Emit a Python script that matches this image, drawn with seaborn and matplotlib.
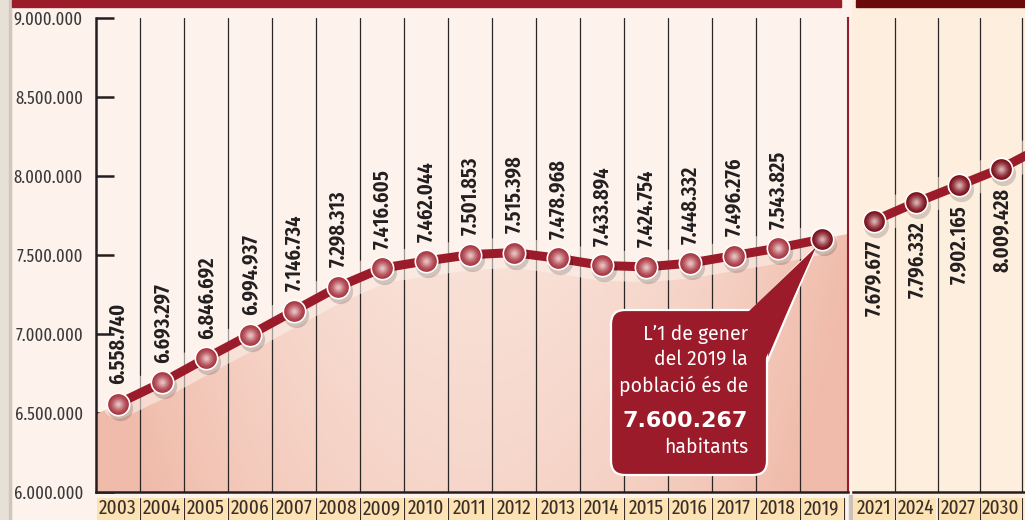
import numpy as np
import matplotlib
matplotlib.use("Agg")
import matplotlib.pyplot as plt
import matplotlib.transforms as mtransforms
from matplotlib import font_manager as fm
from matplotlib.colors import to_rgb
from matplotlib.patches import Rectangle, FancyBboxPatch, Polygon
import seaborn as sns

# data
years_hist = ["2003", "2004", "2005", "2006", "2007", "2008", "2009", "2010", "2011",
              "2012", "2013", "2014", "2015", "2016", "2017", "2018", "2019"]
pop_hist = [6558740, 6693297, 6846692, 6994937, 7146734, 7298313, 7416605, 7462044, 7501853,
            7515398, 7478968, 7433894, 7424754, 7448332, 7496276, 7543825, 7600267]
years_proj = ["2021", "2024", "2027", "2030", "2033"]
pop_proj = [7679677, 7796332, 7902165, 8009428, 8150000]  # 2033 runs off the right edge
n_proj_shown = 4
yticks = [6000000, 6500000, 7000000, 7500000, 8000000, 8500000, 9000000]
callout_lines = ["L\u20191 de gener", "del 2019 la", "poblaci\u00f3 \u00e9s de"]
callout_number = "7.600.267"
callout_unit = "habitants"

W, H = 1025, 520
RED = "#9B1B2A"
CREAM = "#FDF3EC"
CREAM2 = "#FEEEDD"
INK = "#231F20"

installed = {f.name for f in fm.fontManager.ttflist}


def pick(cands):
    for c in cands:
        if c in installed:
            return c
    return "DejaVu Sans"


NARROW = pick(["Fira Sans Extra Condensed", "Fira Sans Condensed", "Barlow Condensed",
               "Asap Condensed", "Archivo Narrow"])
BODY = pick(["Fira Sans", "Open Sans"])

sns.set_theme(style="white")
plt.rcParams["font.family"] = [NARROW, "DejaVu Sans"]


def dot(v):
    return f"{v:,}".replace(",", ".")


def fx(px):
    return px / W


def fy(py):
    return 1 - py / H


fig = plt.figure(figsize=(W / 100, H / 100), dpi=100)
fig.patch.set_facecolor(CREAM)

# page background pieces
fig.add_artist(Rectangle((0, 0), fx(11), 1, transform=fig.transFigure, color="#E6E0D7", zorder=-2))
fig.add_artist(Rectangle((fx(9), 0), fx(2), 1, transform=fig.transFigure, color="#CFC7BC", zorder=-2))
fig.add_artist(Rectangle((fx(852), 0), 1, 1, transform=fig.transFigure, color=CREAM2, zorder=-2))
fig.add_artist(Rectangle((fx(849), 0), fx(3), fy(495), transform=fig.transFigure, color="#C9C2BA", zorder=-1))
fig.add_artist(Rectangle((fx(12), fy(7)), fx(829), 7 / H, transform=fig.transFigure, color=RED, zorder=1))
fig.add_artist(Rectangle((fx(856), fy(7)), 1, 7 / H, transform=fig.transFigure, color="#6B0A0A", zorder=1))

cell2 = 42.3
ax1 = fig.add_axes([fx(96), fy(492), fx(848) - fx(96), 474 / H])
ax2 = fig.add_axes([fx(853), fy(492), len(years_proj) * cell2 / W, 474 / H])
ax1.set_facecolor(CREAM)
ax2.set_facecolor(CREAM2)

xs1 = np.arange(len(years_hist))
xs2 = np.arange(len(years_proj))
x1max = len(years_hist) - 0.5 + 4 / 44

# pink gradient under the historic line
y_left = pop_hist[0] - 0.5 * (pop_hist[1] - pop_hist[0])
y_right = pop_hist[-1] + (x1max - xs1[-1]) * (pop_hist[-1] - pop_hist[-2])
verts = [(-0.5, y_left)] + list(zip(xs1, pop_hist)) + [(x1max, y_right), (x1max, 6000000), (-0.5, 6000000)]
clip = Polygon(verts, closed=True, transform=ax1.transData, fc="none", ec="none")
gx, gy = np.meshgrid(np.linspace(0, 1, 300), np.linspace(0, 1, 200))
alpha = np.clip(0.12 + 0.4 * (1 - gy) + 0.65 * ((gx - 0.5) * 2) ** 2, 0, 1)
rgba = np.zeros((200, 300, 4))
rgba[..., :3] = np.array(to_rgb("#F0BBAA"))
rgba[..., 3] = alpha
im = ax1.imshow(rgba, extent=(-0.5, x1max, 6000000, 9000000), aspect="auto",
                origin="lower", zorder=1, interpolation="bilinear")
im.set_clip_path(clip)

# vertical cell lines
for k in range(len(years_hist) - 1):
    ax1.axvline(k + 0.5, color="#2B2626", lw=0.9, zorder=1.5)
for k in range(len(years_proj) - 1):
    ax2.axvline(k + 0.5, color="#2B2626", lw=0.9, zorder=1.5)

# soft glow + line
ax1.plot(xs1, pop_hist, color=CREAM, lw=22, alpha=0.55, zorder=2, solid_capstyle="round")
ax2.plot(xs2, pop_proj, color=CREAM2, lw=22, alpha=0.55, zorder=2, solid_capstyle="round")
sns.lineplot(x=xs1, y=pop_hist, ax=ax1, color=RED, lw=6.5, zorder=3)
sns.lineplot(x=xs2, y=pop_proj, ax=ax2, color=RED, lw=6.5, zorder=3)


def spheres(ax, x, y, dark, light, z=4):
    shadow = mtransforms.offset_copy(ax.transData, fig=fig, x=2, y=-4, units="dots")
    ax.scatter(x, y, s=330, color="black", alpha=0.16, linewidths=0, transform=shadow, zorder=z)
    sns.scatterplot(x=x, y=y, ax=ax, s=260, color=dark, edgecolor="white", linewidth=1.2, zorder=z + 0.1)
    d, l = np.array(to_rgb(dark)), np.array(to_rgb(light))
    for i, r in enumerate([0.85, 0.7, 0.55, 0.42, 0.3, 0.18]):
        t = (1 - r) ** 1.4
        ax.scatter(x, y, s=260 * r * r, color=d * (1 - t) + l * t, linewidths=0, zorder=z + 0.2 + i * 0.01)


spheres(ax1, xs1[:-1], pop_hist[:-1], "#A8343F", "#F8E8E6")
spheres(ax1, xs1[-1:], pop_hist[-1:], "#7A0C18", "#F4DCDC", z=7)
spheres(ax2, xs2, pop_proj, "#7A0C18", "#F4DCDC")

# value labels
for x, v in zip(xs1[:-1], pop_hist[:-1]):
    ax1.annotate(dot(v), (x, v), xytext=(0, 14), textcoords="offset points", rotation=90,
                 ha="center", va="bottom", fontsize=16, fontweight=600, color=INK, zorder=5)
for x, v in zip(xs2[:n_proj_shown], pop_proj[:n_proj_shown]):
    ax2.annotate(dot(v), (x, v), xytext=(0, -14), textcoords="offset points", rotation=90,
                 ha="center", va="top", fontsize=16, fontweight=600, color=INK, zorder=5)

# axes setup
ax1.set_xlim(-0.5, x1max)
ax1.set_ylim(6000000, 9000000)
ax2.set_xlim(-0.5, len(years_proj) - 0.5)
ax2.set_ylim(5962000, 8962000)

ax1.set_yticks(yticks)
ax1.set_yticklabels([dot(t) for t in yticks])
ax1.tick_params(axis="y", direction="in", length=13, width=1.8, color=INK, pad=9.4,
                labelsize=13, labelcolor="#3A3A3A", left=True)
ax2.set_yticks([])
for ax, xs, labels in [(ax1, xs1, years_hist), (ax2, xs2[:n_proj_shown], years_proj[:n_proj_shown])]:
    ax.set_xticks(xs)
    ax.set_xticklabels(labels)
    ax.tick_params(axis="x", length=0, pad=5, labelsize=15, labelcolor="#3A2E2A")
    trans = mtransforms.blended_transform_factory(ax.transData, ax.transAxes)
    for x in xs:
        ax.add_artist(Rectangle((x - 0.47, -0.09), 0.94, 0.077, transform=trans, fc="#FDE3B4",
                                ec="none", clip_on=False, zorder=0.5))
        ax.plot([x + 0.5, x + 0.5], [-0.013, -0.09], transform=trans, color="#3A2E2A",
                lw=0.8, clip_on=False, zorder=0.6)
    for s in ["top", "left", "right"]:
        ax.spines[s].set_visible(False)
    ax.spines["bottom"].set_color(INK)
    ax.spines["bottom"].set_linewidth(1.8)
    ax.grid(False)
ax1.spines["left"].set_visible(True)
ax1.spines["left"].set_color(INK)
ax1.spines["left"].set_linewidth(1.8)
ax1.spines["right"].set_visible(True)
ax1.spines["right"].set_color(RED)
ax1.spines["right"].set_linewidth(1.5)

# callout (pixel positions, tip anchored at the 2019 point)
ident = mtransforms.IdentityTransform()
tip = ax1.transData.transform((xs1[-1], pop_hist[-1])) + np.array([-6, -8])
box = FancyBboxPatch((611, H - 475), 156, 165, boxstyle="round,pad=0,rounding_size=14",
                     fc=RED, ec="white", lw=1.6, transform=ident, zorder=6)
ptr = [(752, H - 310), tip, (767, H - 362)]
ax1.add_artist(Polygon(ptr, closed=True, fc=RED, ec="white", lw=1.6, transform=ident, zorder=6))
ax1.add_artist(box)
ax1.add_artist(Polygon([(748, H - 312), tip, (765, H - 360)], closed=True, fc=RED, ec="none",
                       transform=ident, zorder=6.1))
body_size = 14 if BODY == "Fira Sans" else 13.5
for txt, base in zip(callout_lines, [340, 365, 392]):
    ax1.text(748, H - base, txt, transform=ident, ha="right", va="baseline", color="white",
             fontsize=body_size, family=[BODY, "DejaVu Sans"], zorder=6.5)
ax1.text(748, H - 427, callout_number, transform=ident, ha="right", va="baseline", color="white",
         fontsize=16, fontweight="bold", family=["DejaVu Sans"], zorder=6.5)
ax1.text(748, H - 453, callout_unit, transform=ident, ha="right", va="baseline", color="white",
         fontsize=body_size, family=[BODY, "DejaVu Sans"], zorder=6.5)

fig.savefig("out.png", dpi=100)
